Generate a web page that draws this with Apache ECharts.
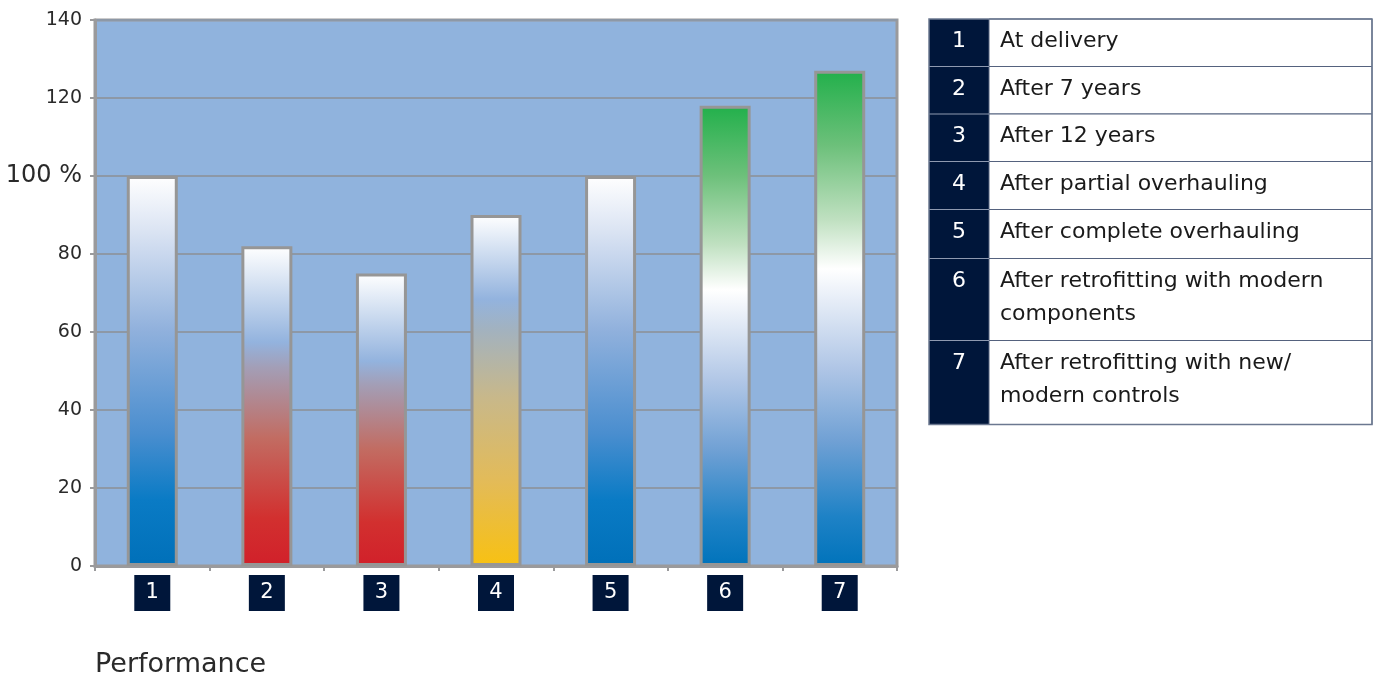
<!DOCTYPE html>
<html><head><meta charset="utf-8">
<script src="https://cdn.jsdelivr.net/npm/echarts@6/dist/echarts.min.js"></script>
<style>html,body{margin:0;padding:0;background:#fff}#c{width:1380px;height:675px}</style>
</head><body><div id="c"></div>
<script>
// ---- data ----
const categories = ['1', '2', '3', '4', '5', '6', '7'];
const performance = [100, 82, 75, 90, 100, 118, 127];
const yTicks = [0, 20, 40, 60, 80, 100, 120, 140];
const legendNumbers = ['1', '2', '3', '4', '5', '6', '7'];
const legendTexts = [
  'At delivery',
  'After 7 years',
  'After 12 years',
  'After partial overhauling',
  'After complete overhauling',
  'After retrofitting with modern\ncomponents',
  'After retrofitting with new/\nmodern controls'
];
const axisTitle = 'Performance';
const percentLabel = '100 %';

// ---- styling ----
const FONT = 'DejaVu Sans';
const NAVY = '#00163a';
const schemes = {
  blue: [[0, '#ffffff'], [0.14, '#dbe4f3'], [0.4, '#8fb0dc'], [0.66, '#4a8ecf'], [0.83, '#0a7bc5'], [1, '#0070b9']],
  red: [[0, '#ffffff'], [0.3, '#93b3de'], [0.38, '#a39eb6'], [0.6, '#c26c62'], [0.85, '#d2302f'], [1, '#d1202a']],
  yellow: [[0, '#ffffff'], [0.24, '#93b3de'], [0.33, '#a3b2be'], [0.52, '#c8b88a'], [0.76, '#e3bb58'], [1, '#f8c112']],
  green: [[0, '#22b04b'], [0.15, '#6cc07a'], [0.3, '#bfe0c0'], [0.4, '#ffffff'], [0.6, '#b0c6e6'], [0.75, '#6fa0d4'], [0.9, '#1e82c6'], [1, '#0073bb']]
};
const barScheme = ['blue', 'red', 'red', 'yellow', 'blue', 'green', 'green'];
function grad(name) {
  return new echarts.graphic.LinearGradient(0, 0, 0, 1,
    schemes[name].map(s => ({ offset: s[0], color: s[1] })));
}

const barData = performance.map((v, i) => ({
  value: v,
  itemStyle: { color: grad(barScheme[i]) }
}));

// ---- legend table (graphic) ----
const tbl = { left: 929, top: 19, numW: 60, width: 443 };
const rowHeights = [47.5, 47.5, 47.5, 48, 49, 82, 84];
const graphics = [];
let y = tbl.top;
legendNumbers.forEach((n, i) => {
  const h = rowHeights[i];
  graphics.push({
    type: 'rect', shape: { x: tbl.left, y: y, width: tbl.numW, height: h },
    style: { fill: NAVY, lineWidth: 0 }
  });
  graphics.push({
    type: 'rect', shape: { x: tbl.left + tbl.numW, y: y, width: tbl.width - tbl.numW, height: h },
    style: { fill: '#ffffff', stroke: '#55627e', lineWidth: 1 }
  });
  graphics.push({
    type: 'text', x: tbl.left + tbl.numW / 2, y: y + 6,
    style: { text: n, fill: '#ffffff', font: '22px "' + FONT + '"', align: 'center', verticalAlign: 'top', lineHeight: 33 }
  });
  graphics.push({
    type: 'text', x: tbl.left + tbl.numW + 11, y: y + 6,
    style: { text: legendTexts[i], fill: '#1a1a1a', font: '22px "' + FONT + '"', align: 'left', verticalAlign: 'top', lineHeight: 33 }
  });
  if (i > 0) {
    graphics.push({
      type: 'line', shape: { x1: tbl.left, y1: y, x2: tbl.left + tbl.numW, y2: y },
      style: { stroke: '#8f9ab0', lineWidth: 1 }
    });
  }
  y += h;
});
graphics.push({
  type: 'rect', shape: { x: tbl.left, y: tbl.top, width: tbl.width, height: y - tbl.top },
  style: { fill: 'none', stroke: '#6b7890', lineWidth: 1.5 }
});

const chart = echarts.init(document.getElementById('c'), null, { renderer: 'canvas' });
chart.setOption({
  animation: false,
  backgroundColor: '#ffffff',
  title: {
    text: axisTitle, left: 90, top: 646,
    textStyle: { fontFamily: FONT, fontWeight: 'normal', fontSize: 27, color: '#2a2a2a' }
  },
  grid: {
    left: 95, top: 20, right: 483, bottom: 109,
    show: true, backgroundColor: '#90b3dd', borderColor: '#9a9a9c', borderWidth: 3
  },
  xAxis: {
    type: 'category', data: categories,
    axisLine: { lineStyle: { color: '#9a9a9c', width: 3 } },
    axisTick: { show: true, length: 5, lineStyle: { color: '#9a9a9c', width: 2 } },
    axisLabel: {
      margin: 9, color: '#ffffff', fontFamily: FONT, fontSize: 21,
      backgroundColor: NAVY, width: 36, lineHeight: 36, align: 'center', padding: 0
    }
  },
  yAxis: {
    type: 'value', min: yTicks[0], max: yTicks[yTicks.length - 1], interval: 20,
    axisLine: { show: true, lineStyle: { color: '#9a9a9c', width: 3 } },
    axisTick: { show: true, length: 5, lineStyle: { color: '#9a9a9c', width: 2 } },
    splitLine: { lineStyle: { color: '#8d98a6', width: 2 } },
    axisLabel: {
      margin: 13, color: '#2a2a2a', fontFamily: FONT, fontSize: 19,
      formatter: v => v === 100 ? '{big|' + percentLabel + '}' : String(v),
      rich: { big: { fontFamily: FONT, fontSize: 24, color: '#2a2a2a' } }
    }
  },
  series: [{
    type: 'bar', data: barData, barWidth: 51,
    itemStyle: { borderColor: '#969696', borderWidth: 3 }
  }],
  graphic: graphics
});
</script></body></html>
